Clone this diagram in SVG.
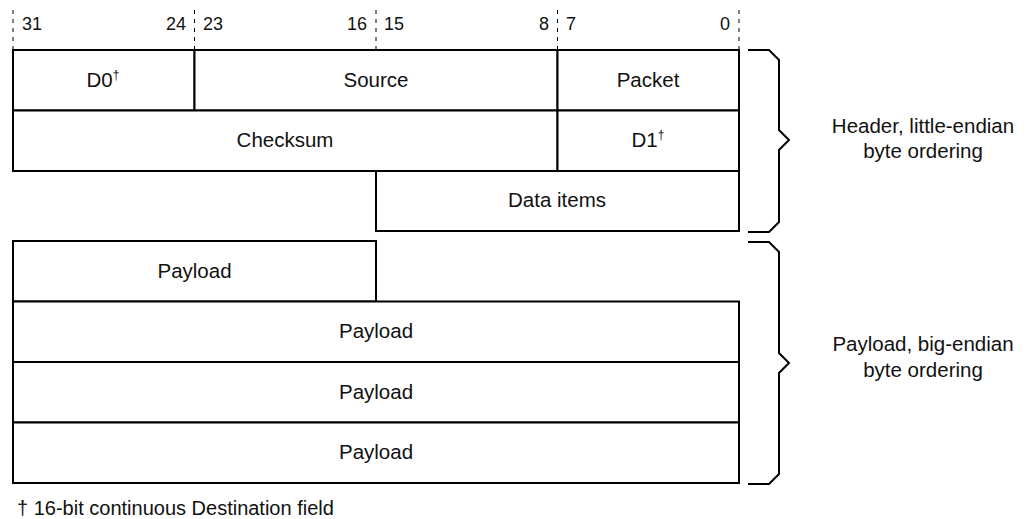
<svg xmlns="http://www.w3.org/2000/svg" width="1033" height="519" viewBox="0 0 1033 519">
<style>
.box{fill:#fff;stroke:#000;stroke-width:2}
.t{font-family:"Liberation Sans",Arial,sans-serif;font-size:20.5px;fill:#111;text-anchor:middle}
.n{font-family:"Liberation Sans",Arial,sans-serif;font-size:18px;fill:#111}
.f{font-family:"Liberation Sans",Arial,sans-serif;font-size:20px;fill:#111}
.tick{stroke:#000;stroke-width:1;stroke-dasharray:4 5}
.br{fill:none;stroke:#000;stroke-width:2}
.sup{font-size:12px}
</style>
<g id="ticks">
<line class="tick" x1="13" y1="10" x2="13" y2="49"/>
<line class="tick" x1="194.5" y1="10" x2="194.5" y2="49"/>
<line class="tick" x1="376" y1="10" x2="376" y2="49"/>
<line class="tick" x1="557.5" y1="10" x2="557.5" y2="49"/>
<line class="tick" x1="739" y1="10" x2="739" y2="49"/>
</g>
<g id="bitnumbers">
<text class="n" x="22" y="30">31</text>
<text class="n" x="186" y="30" text-anchor="end">24</text>
<text class="n" x="203" y="30">23</text>
<text class="n" x="367" y="30" text-anchor="end">16</text>
<text class="n" x="384" y="30">15</text>
<text class="n" x="549" y="30" text-anchor="end">8</text>
<text class="n" x="566" y="30">7</text>
<text class="n" x="730" y="30" text-anchor="end">0</text>
</g>
<g id="d0"><rect class="box" x="13" y="50" width="181.5" height="60.5"/><text class="t" x="103" y="87">D0<tspan class="sup" dy="-8">†</tspan></text></g>
<g id="source"><rect class="box" x="194.5" y="50" width="363" height="60.5"/><text class="t" x="376" y="87">Source</text></g>
<g id="packet"><rect class="box" x="557.5" y="50" width="181.5" height="60.5"/><text class="t" x="648" y="87">Packet</text></g>
<g id="checksum"><rect class="box" x="13" y="110.5" width="544.5" height="60.5"/><text class="t" x="285" y="147">Checksum</text></g>
<g id="d1"><rect class="box" x="557.5" y="110.5" width="181.5" height="60.5"/><text class="t" x="648" y="147">D1<tspan class="sup" dy="-8">†</tspan></text></g>
<g id="dataitems"><rect class="box" x="376" y="171" width="363" height="60"/><text class="t" x="557" y="207">Data items</text></g>
<g id="payload0"><rect class="box" x="13" y="241" width="363" height="60.5"/><text class="t" x="194.5" y="278">Payload</text></g>
<g id="payload1"><rect class="box" x="13" y="301.5" width="726" height="60.5"/><text class="t" x="376" y="338">Payload</text></g>
<g id="payload2"><rect class="box" x="13" y="362" width="726" height="60.5"/><text class="t" x="376" y="399">Payload</text></g>
<g id="payload3"><rect class="box" x="13" y="422.5" width="726" height="60.5"/><text class="t" x="376" y="459">Payload</text></g>
<g id="connectors">
<path class="br" d="M748,50 H769 L779,60 V130 L789,140 L779,150 V222 L769,232 H748"/>
<path class="br" d="M748,242 H769 L779,252 V353 L789,363 L779,373 V474 L769,484 H748"/>
</g>
<g id="header-label"><text class="t" x="923" y="133">Header, little-endian</text><text class="t" x="923" y="158">byte ordering</text></g>
<g id="payload-label"><text class="t" x="923" y="351">Payload, big-endian</text><text class="t" x="923" y="377">byte ordering</text></g>
<g id="footnote"><text class="f" x="17" y="515">† 16-bit continuous Destination field</text></g>
</svg>
